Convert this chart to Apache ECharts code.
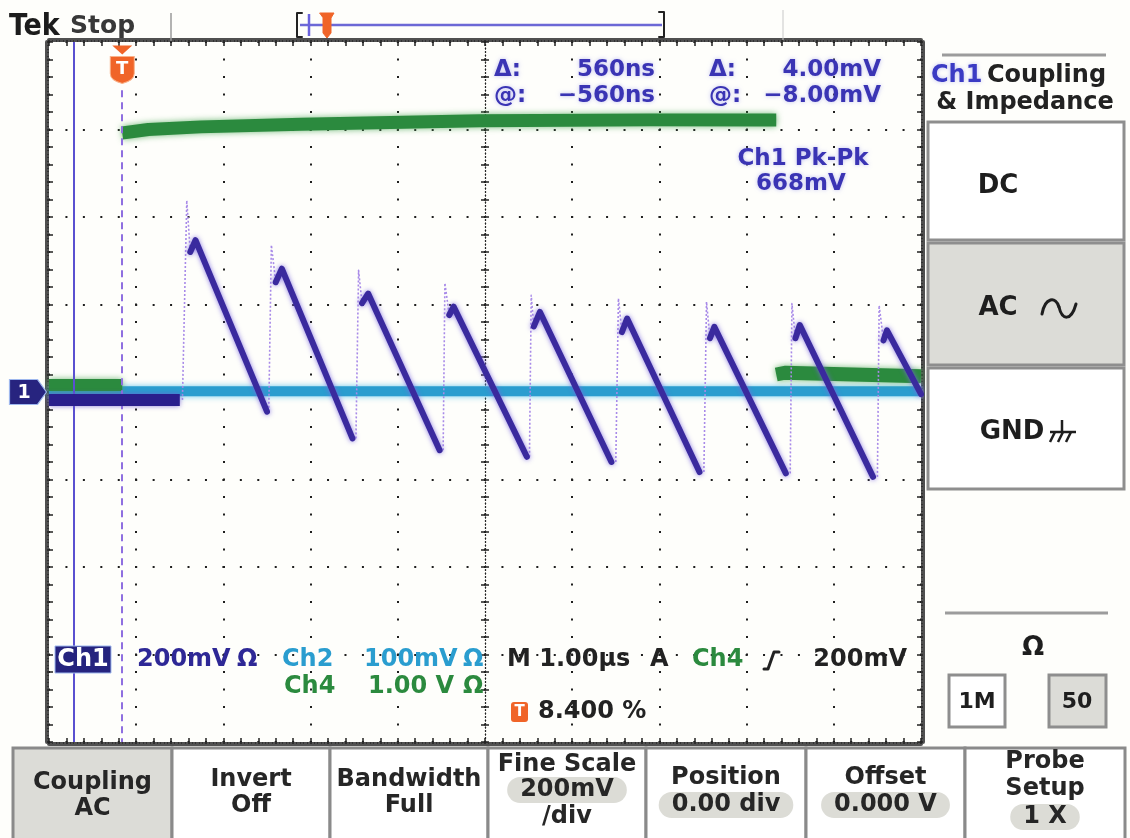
<!DOCTYPE html>
<html>
<head>
<meta charset="utf-8">
<script src="https://cdn.jsdelivr.net/npm/echarts@6/dist/echarts.min.js"></script>
<style>
  html, body { margin: 0; padding: 0; background: #fefefb; }
  #scope { width: 1130px; height: 838px; }
</style>
</head>
<body>
<div id="scope"></div>
<script>
// ---- Acquisition: 1.00 µs/div, trigger at 8.4 % of the 10-division record ----
const timeMin = -0.84, timeMax = 9.16;          // µs across the screen
const divX = [-5, 5], divY = [-4, 4];            // graticule in divisions

// ---- Ch1 (200 mV/div, AC): flat pre-trigger level, then a sawtooth ----
const ch1Flat = [[-0.84, -18], [0.66, -18]];
const riseT  = [0.69, 1.68, 2.68, 3.68, 4.67, 5.66, 6.67, 7.66, 8.66];   // fast edge starts (µs)
const spikeT = [0.74, 1.71, 2.71, 3.70, 4.69, 5.69, 6.70, 7.68, 8.68];   // overshoot tops (µs)
const spikeV = [438, 336, 278, 249, 221, 214, 206, 202, 198];            // mV
const kneeT  = [0.78, 1.76, 2.75, 3.75, 4.72, 5.73, 6.74, 7.72, 8.73];
const kneeV  = [320, 251, 203, 176, 150, 137, 123, 123, 118];
const peakT  = [0.84, 1.83, 2.82, 3.80, 4.79, 5.79, 6.79, 7.77, 8.77];
const peakV  = [347, 282, 225, 195, 183, 168, 149, 153, 141];
const lowT   = [1.66, 2.64, 3.64, 4.64, 5.61, 6.62, 7.61, 8.61, 9.16];
const lowV   = [-45, -106, -133, -148, -160, -183, -186, -194, -5];

// ---- Ch2 (100 mV/div): quiet baseline ----
const ch2 = [[-0.84, 1], [9.16, 1]];

// ---- Ch4 (1.00 V/div): trigger pulse, high from 0 to 7.5 µs ----
const ch4Before = [[-0.84, 0.08], [0, 0.08]];
const ch4High   = [[0, 2.96], [0.3, 3.00], [0.9, 3.03], [2.05, 3.06], [4.1, 3.10], [6.06, 3.11], [7.5, 3.11]];
const ch4After  = [[7.5, 0.20], [7.6, 0.22], [9.16, 0.18]];

// ---- Cursors (time bars) ----
const cursorA = -0.56, cursorB = 0;

const NAVY = '#2e2896', CYAN = '#2a9dcf', GREEN = '#2b8a3e', ORANGE = '#f06428', MEAS = '#3a34b4';
const FONT = '"DejaVu Sans", sans-serif';

const chart = echarts.init(document.getElementById('scope'), null, { renderer: 'canvas' });

// ---------- axes ----------
const off = { show: false };
const dotGrid = (dash) => ({ show: true, lineStyle: { color: '#1e1e1e', width: 2, type: dash, dashOffset: 1 } });
function frameAxis(pos, range) {
  return {
    type: 'value', min: range[0], max: range[1], interval: 0.2, position: pos, offset: 2,
    axisLine: { show: true, onZero: false, lineStyle: { color: '#505050', width: 4 } },
    axisTick: { show: true, inside: true, length: 6, lineStyle: { color: '#222', width: 1.5 } },
    minorTick: { show: true, splitNumber: 5, length: 2, lineStyle: { color: '#333', width: 1 } },
    axisLabel: off, splitLine: off, silent: true
  };
}
function centreAxis(pos, range, inside, zeroIdx) {
  return {
    type: 'value', min: range[0], max: range[1], interval: 0.2, position: pos,
    axisLine: { show: true, onZero: true, onZeroAxisIndex: zeroIdx, lineStyle: { color: '#222', width: 1.2, type: [1, 2.5] } },
    axisTick: { show: true, inside: inside, length: 4, lineStyle: { color: '#222', width: 1.5 } },
    minorTick: off, axisLabel: off, splitLine: off, silent: true
  };
}

const xAxis = [
  { type: 'value', min: timeMin, max: timeMax, show: false },                                  // 0: time (µs)
  { type: 'value', min: divX[0], max: divX[1], interval: 1, axisLine: { show: false, onZero: false },
    axisTick: off, axisLabel: off, splitLine: dotGrid([2, 15.5]) },                             // 1: graticule
  frameAxis('bottom', divX),                                                                     // 2
  frameAxis('top', divX),                                                                        // 3
  centreAxis('bottom', divX, true, 0),                                                           // 4
  centreAxis('bottom', divX, false, 0)                                                           // 5
];
const yAxis = [
  { type: 'value', min: -800, max: 800, show: false },                                          // 0: Ch1 mV
  { type: 'value', min: -400, max: 400, show: false },                                          // 1: Ch2 mV
  { type: 'value', min: -4, max: 4, show: false },                                              // 2: Ch4 V
  { type: 'value', min: divY[0], max: divY[1], interval: 1, axisLine: { show: false, onZero: false },
    axisTick: off, axisLabel: off, splitLine: dotGrid([2, 15.44]) },                            // 3: graticule
  frameAxis('left', divY),                                                                       // 4
  frameAxis('right', divY),                                                                      // 5
  centreAxis('left', divY, true, 1),                                                             // 6
  centreAxis('left', divY, false, 1)                                                             // 7
];

// ---------- traces ----------
const base = { type: 'line', xAxisIndex: 0, symbol: 'none', silent: true, animation: false, clip: true };
function trace(data, yIdx, color, width, glow, blur, z, extra) {
  return Object.assign({}, base, {
    yAxisIndex: yIdx, data, z,
    lineStyle: Object.assign({ color, width, shadowColor: glow, shadowBlur: blur, cap: 'butt', join: 'round' }, extra || {})
  });
}

const series = [];
series.push(trace(ch2, 1, CYAN, 10, 'rgba(90,195,235,0.9)', 6, 3));
series.push(trace(ch4Before, 2, GREEN, 12, 'rgba(80,170,90,0.8)', 6, 4));
series.push(trace(ch4High, 2, GREEN, 13, 'rgba(80,170,90,0.8)', 6, 4));
series.push(trace(ch4After, 2, GREEN, 14, 'rgba(80,170,90,0.8)', 6, 4));

// Ch1 pre-trigger level, carrying the ground marker, the cursors and the trigger mark
const ch1Base = trace(ch1Flat, 0, '#2a1f8c', 12, 'rgba(110,90,210,0.8)', 5, 6);
ch1Base.markPoint = {
  silent: true, animation: false,
  data: [
    { coord: [timeMin, 0], symbol: 'path://M0 0H28L37 12.5L28 25H0Z', symbolSize: [37, 25], symbolOffset: [-21, 0],
      itemStyle: { color: '#27247f', borderColor: '#9fb8ee', borderWidth: 1 },
      label: { show: true, formatter: '1', color: '#fff', fontSize: 19, fontWeight: 'bold', fontFamily: FONT, offset: [-4, 1] } },
    { coord: [cursorB, 800], symbol: 'path://M0 0H20L10 9Z', symbolSize: [20, 9], symbolOffset: [0, 8],
      itemStyle: { color: ORANGE }, label: { show: false } },
    { coord: [cursorB, 800], symbol: 'path://M0 0H22V17Q22 24 11 27Q0 24 0 17Z', symbolSize: [24, 27], symbolOffset: [0, 28],
      itemStyle: { color: ORANGE, borderColor: '#f9b28a', borderWidth: 1 },
      label: { show: true, formatter: 'T', color: '#fff', fontSize: 18, fontWeight: 'bold', fontFamily: FONT, offset: [0, -1] } }
  ]
};
ch1Base.markLine = {
  silent: true, animation: false, symbol: 'none', label: { show: false },
  data: [
    { xAxis: cursorA, lineStyle: { color: '#5a50d0', width: 2, type: 'solid' } },
    [{ coord: [cursorB, 690], lineStyle: { color: '#8f6fe0', width: 2, type: [7, 5] } }, { coord: [cursorB, -800] }]
  ]
};
series.push(ch1Base);

// Fast rising edges are only faintly captured
riseT.forEach((t, i) => {
  const fromV = i === 0 ? ch1Flat[1][1] : lowV[i - 1];
  series.push(trace([[t, fromV], [spikeT[i], spikeV[i]], [kneeT[i], kneeV[i]]], 0,
    '#a88ae8', 1.6, 'rgba(0,0,0,0)', 0, 5, { type: [2, 2] }));
});
// Falling ramps
kneeT.forEach((t, i) => {
  series.push(trace([[t, kneeV[i]], [peakT[i], peakV[i]], [lowT[i], lowV[i]]], 0,
    '#3a2a9e', 6, 'rgba(120,100,225,0.85)', 5, 7, { cap: 'round' }));
});

// ---------- screen furniture ----------
const G = [];
const measureCtx = document.createElement('canvas').getContext('2d');
function fontOf(o) { return `${o.weight || 'bold'} ${o.size || 24}px ${o.family || FONT}`; }
function textWidth(str, o) { measureCtx.font = fontOf(o || {}); return measureCtx.measureText(str).width; }
function text(x, y, str, o) {
  o = o || {};
  G.push({
    type: 'text', x, y, silent: true, z: 100,
    style: {
      text: str, font: fontOf(o),
      fill: o.color || '#222', align: o.align || 'left', verticalAlign: 'middle',
      textShadowColor: o.halo || 'rgba(0,0,0,0)', textShadowBlur: o.halo ? 4 : 0
    }
  });
}
function rect(x, y, w, h, fill, stroke, lw, r, z) {
  G.push({ type: 'rect', silent: true, z: z || 90, shape: { x, y, width: w, height: h, r: r || 0 },
    style: { fill, stroke: stroke || null, lineWidth: lw || 0 } });
}
function poly(points, stroke, lw, fill, z) {
  G.push({ type: fill ? 'polygon' : 'polyline', silent: true, z: z || 100, shape: { points },
    style: { stroke, lineWidth: lw, fill: fill || null, lineCap: 'round', lineJoin: 'round' } });
}
function curve(x1, y1, cx1, cy1, cx2, cy2, x2, y2, stroke, lw) {
  G.push({ type: 'bezierCurve', silent: true, z: 100,
    shape: { x1, y1, cpx1: cx1, cpy1: cy1, cpx2: cx2, cpy2: cy2, x2, y2 },
    style: { stroke, lineWidth: lw, fill: null, lineCap: 'round' } });
}
function line(x1, y1, x2, y2, color, lw) {
  G.push({ type: 'line', silent: true, z: 95, shape: { x1, y1, x2, y2 }, style: { stroke: color, lineWidth: lw } });
}

// header
text(9, 27, 'Tek', { size: 30, family: '"DejaVu Sans Condensed", "DejaVu Sans", sans-serif', color: '#1c1c1c' });
text(70, 26, 'Stop', { size: 25, color: '#383838' });
line(171, 13, 171, 41, '#9a9a9a', 1.5);
line(783, 10, 783, 40, '#c8c8c8', 1);
line(300, 25, 662, 25, '#6c68d6', 2.5);
poly([[302, 13], [297, 13], [297, 37], [302, 37]], '#222', 2);
poly([[659, 12], [664, 12], [664, 37], [659, 37]], '#222', 2);
line(309, 14, 309, 36, '#6a62dd', 2.5);
poly([[320, 13], [334, 13], [331, 18], [331, 33], [327, 38], [323, 33], [323, 18]], ORANGE, 1, ORANGE);
line(327, 16, 327, 34, '#fff', 2);

// cursor readouts
const halo = 'rgba(140,140,235,0.55)';
text(494, 70, 'Δ:', { color: MEAS, halo, size: 23 });
text(655, 70, '560ns', { color: MEAS, halo, align: 'right', size: 23 });
text(709, 70, 'Δ:', { color: MEAS, halo, size: 23 });
text(881, 70, '4.00mV', { color: MEAS, halo, align: 'right', size: 23 });
text(494, 96, '@:', { color: MEAS, halo, size: 23 });
text(655, 96, '−560ns', { color: MEAS, halo, align: 'right', size: 23 });
text(709, 96, '@:', { color: MEAS, halo, size: 23 });
text(881, 96, '−8.00mV', { color: MEAS, halo, align: 'right', size: 23 });
text(803, 159, 'Ch1 Pk-Pk', { color: MEAS, halo, align: 'center', size: 23 });
text(801, 184, '668mV', { color: MEAS, halo, align: 'center', size: 23 });

// channel / timebase readouts
rect(55, 646, 56, 27, '#25237e', '#9fb8ee', 1);
text(83, 660, 'Ch1', { color: '#fff', align: 'center' });
text(137, 660, '200mV', { color: NAVY });
text(237, 660, 'Ω', { color: NAVY });
text(282, 660, 'Ch2', { color: CYAN });
text(364, 660, '100mV', { color: CYAN });
text(463, 660, 'Ω', { color: CYAN });
text(284, 687, 'Ch4', { color: GREEN });
text(368, 687, '1.00 V', { color: GREEN });
text(463, 687, 'Ω', { color: GREEN });
text(507, 660, 'M 1.00µs', { color: '#222' });
text(650, 660, 'A', { color: '#222' });
text(692, 660, 'Ch4', { color: GREEN });
poly([[764, 669], [768, 669], [774, 652], [779, 652]], '#222', 3);
text(907, 660, '200mV', { color: '#222', align: 'right' });
rect(511, 702, 17, 20, ORANGE, null, 0, 3);
text(519.5, 712, 'T', { color: '#fff', size: 15, align: 'center' });
text(538, 712, '8.400 %', { color: '#222' });

// right-hand menu
line(942, 55, 1106, 55, '#9c9c9c', 3);
text(931, 76, 'Ch1', { color: '#3b3bc4', size: 24, halo: 'rgba(150,150,240,0.6)' });
text(987, 76, 'Coupling', { color: '#222', size: 24 });
text(1025, 103, '& Impedance', { color: '#222', size: 24, align: 'center' });
rect(928, 122, 196, 118, '#ffffff', '#8e8e8e', 3);
rect(928, 243, 196, 122, '#dcdcd7', '#8e8e8e', 3);
rect(928, 368, 196, 121, '#ffffff', '#8e8e8e', 3);
text(998, 186, 'DC', { size: 26, align: 'center', color: '#1e1e1e' });
text(998, 308, 'AC', { size: 26, align: 'center', color: '#1e1e1e' });
curve(1042, 314, 1045, 297, 1056, 296, 1059, 307, '#1e1e1e', 3);
curve(1059, 307, 1062, 320, 1071, 322, 1076, 304, '#1e1e1e', 3);
text(1012, 432, 'GND', { size: 26, align: 'center', color: '#1e1e1e' });
line(1062, 420, 1062, 432, '#1e1e1e', 2.5);
line(1050, 432, 1076, 432, '#1e1e1e', 2.5);
line(1055, 432, 1050, 442, '#1e1e1e', 2.5);
line(1063, 432, 1058, 442, '#1e1e1e', 2.5);
line(1071, 432, 1066, 442, '#1e1e1e', 2.5);
line(945, 613, 1108, 613, '#9c9c9c', 3);
text(1033, 648, 'Ω', { size: 26, align: 'center', color: '#1e1e1e' });
rect(949, 675, 56, 52, '#ffffff', '#8e8e8e', 3);
rect(1049, 675, 57, 52, '#dcdcd7', '#8e8e8e', 3);
text(977, 702, '1M', { size: 22, align: 'center', color: '#1e1e1e' });
text(1077, 702, '50', { size: 22, align: 'center', color: '#1e1e1e' });

// bottom soft keys
const keys = [
  { x: 13,  w: 159, fill: '#dcdcd7', lines: [['Coupling', 783], ['AC', 809]] },
  { x: 172, w: 158, fill: '#ffffff', lines: [['Invert', 780], ['Off', 806]] },
  { x: 330, w: 158, fill: '#ffffff', lines: [['Bandwidth', 780], ['Full', 806]] },
  { x: 488, w: 158, fill: '#ffffff', lines: [['Fine Scale', 765], ['200mV', 790, true], ['/div', 817]] },
  { x: 646, w: 160, fill: '#ffffff', lines: [['Position', 778], ['0.00 div', 805, true]] },
  { x: 806, w: 159, fill: '#ffffff', lines: [['Offset', 778], ['0.000 V', 805, true]] },
  { x: 965, w: 160, fill: '#ffffff', lines: [['Probe', 762], ['Setup', 789], ['1 X', 817, true]] }
];
keys.forEach(k => {
  rect(k.x, 748, k.w, 100, k.fill, '#8a8a8a', 3, 0, 80);
  const cx = k.x + k.w / 2;
  k.lines.forEach(([s, y, pill]) => {
    if (pill) {
      const w = Math.max(66, textWidth(s, { size: 24 }) + 26);
      rect(cx - w / 2, y - 13, w, 26, '#dcdcd6', null, 0, 13, 85);
    }
    text(cx, y, s, { size: 24, align: 'center', color: '#262626' });
  });
});

chart.setOption({
  backgroundColor: '#fefefb',
  animation: false,
  grid: { left: 49, top: 42, width: 872, height: 700, containLabel: false, show: false },
  xAxis, yAxis, series,
  graphic: { elements: G }
});
</script>
</body>
</html>
